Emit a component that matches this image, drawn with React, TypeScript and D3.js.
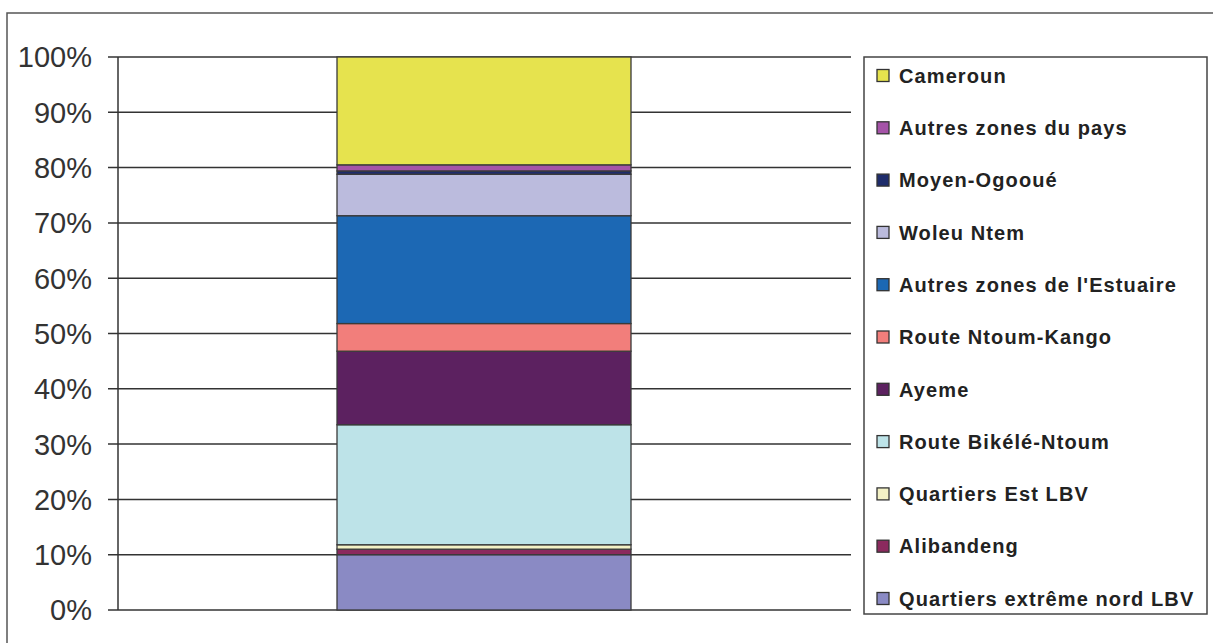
import React from "react";
import * as d3 from "d3";

const seriesNames = [
  "Quartiers extrême nord LBV",
  "Alibandeng",
  "Quartiers Est LBV",
  "Route Bikélé-Ntoum",
  "Ayeme",
  "Route Ntoum-Kango",
  "Autres zones de l'Estuaire",
  "Woleu Ntem",
  "Moyen-Ogooué",
  "Autres zones du pays",
  "Cameroun",
];
const seriesValues = [10.0, 1.0, 0.8, 21.7, 13.3, 5.0, 19.5, 7.5, 0.6, 1.1, 19.5];
const seriesColors = [
  "#8A8AC4",
  "#8B2A5E",
  "#F3F1C5",
  "#BDE3E8",
  "#5C2160",
  "#F27E7B",
  "#1C68B4",
  "#BBBBDD",
  "#1E2C6B",
  "#A553A8",
  "#E6E34E",
];
const tickValues = [0, 10, 20, 30, 40, 50, 60, 70, 80, 90, 100];
const category = ["Origine"];

export default function App() {
  const W = 1213;
  const H = 643;
  const plotLeft = 118;
  const plotRight = 851;
  const y = d3.scaleLinear().domain([0, 100]).range([610, 57]);
  const x = d3.scaleBand().domain(category).range([plotLeft, plotRight]).paddingInner(0).paddingOuter(0.7);
  const bx = 337;
  const bw = 631 - 337;

  const row: any = {};
  seriesNames.forEach((n, i) => (row[n] = seriesValues[i]));
  const stacked = d3.stack().keys(seriesNames)([row]);

  const legendTop = 57;
  const legendBottom = 614;
  const legendFirst = 75.5;
  const legendStep = 52.3;
  const legendOrder = seriesNames.map((_, i) => seriesNames.length - 1 - i);

  return (
    <svg width={W} height={H} style={{ position: "absolute", left: 0, top: 0 }}>
      <rect x={0} y={0} width={W} height={H} fill="#fff" />
      <rect x={7} y={13} width={W + 10} height={H + 10} fill="none" stroke="#555" strokeWidth={1.5} />
      {tickValues.map((t) => (
        <g key={t}>
          <line x1={108} x2={plotRight} y1={y(t)} y2={y(t)} stroke="#333" strokeWidth={1.5} />
          <text
            x={92}
            y={y(t)}
            dy="0.36em"
            textAnchor="end"
            fontFamily="Liberation Sans, Arial, sans-serif"
            fontSize={29}
            fill="#333"
          >
            {t}%
          </text>
        </g>
      ))}
      <line x1={plotLeft} x2={plotLeft} y1={y(100)} y2={y(0)} stroke="#333" strokeWidth={1.5} />
      {stacked.map((s, i) => (
        <rect
          key={seriesNames[i]}
          x={x(category[0]) !== undefined ? bx : bx}
          width={bw}
          y={y(s[0][1])}
          height={y(s[0][0]) - y(s[0][1])}
          fill={seriesColors[i]}
          stroke="#3a3a3a"
          strokeWidth={1.3}
        />
      ))}
      <rect
        x={864}
        y={legendTop}
        width={1207 - 864}
        height={legendBottom - legendTop}
        fill="#fff"
        stroke="#444"
        strokeWidth={1.5}
      />
      {legendOrder.map((si, k) => {
        const cy = legendFirst + legendStep * k;
        return (
          <g key={seriesNames[si]}>
            <rect x={877} y={cy - 6} width={12} height={12} fill={seriesColors[si]} stroke="#333" strokeWidth={1.3} />
            <text
              x={899}
              y={cy}
              dy="0.36em"
              fontFamily="Liberation Sans, Arial, sans-serif"
              fontWeight="bold"
              fontSize={20}
              letterSpacing={1.1}
              fill="#222"
            >
              {seriesNames[si]}
            </text>
          </g>
        );
      })}
    </svg>
  );
}
